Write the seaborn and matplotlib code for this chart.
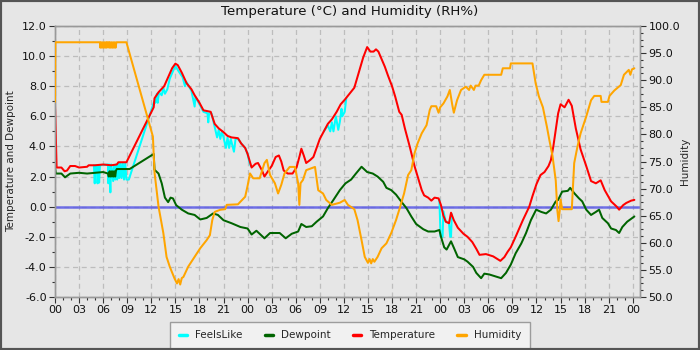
import matplotlib
matplotlib.use("Agg")
import matplotlib.pyplot as plt
import pandas as pd
import seaborn as sns
from matplotlib.lines import Line2D
from matplotlib.patches import Rectangle
from matplotlib.ticker import MultipleLocator, FormatStrFormatter, FuncFormatter

# ---- readings (hours since midnight of day 1) ----
temp_hours = [0.0, 0.1, 0.2, 0.8, 1.2, 1.5, 1.9, 2.5, 3.0, 4.0, 4.2, 5.0, 6.0, 7.0, 7.7, 7.9, 8.9,
              12.3, 12.4, 12.9, 13.6, 14.1, 14.6, 15.0, 15.3, 15.8, 16.4, 17.0, 17.4, 18.0, 18.5,
              19.4, 19.9, 20.4, 21.0, 21.5, 22.0, 22.8, 23.2, 23.7, 24.0, 24.5, 25.0, 25.3, 25.8,
              26.1, 26.6, 27.0, 27.5, 27.9, 28.2, 28.5, 29.0, 29.6, 30.1, 30.5, 30.7, 31.0, 31.3,
              31.8, 32.2, 32.6, 33.0, 33.5, 34.0, 34.5, 35.1, 35.6, 36.1, 36.7, 37.3, 37.9, 38.4,
              38.9, 39.3, 39.7, 40.0, 40.3, 40.7, 41.1, 41.5, 42.0, 42.4, 42.9, 43.2, 43.6, 44.2,
              44.8, 45.2, 45.7, 46.0, 46.5, 46.9, 47.3, 47.8, 48.1, 48.4, 48.7, 49.1, 49.35, 49.7,
              50.2, 50.9, 51.4, 52.0, 52.5, 52.9, 53.7, 54.6, 55.2, 55.5, 56.0, 56.4, 56.8, 57.4,
              58.3, 59.1, 59.5, 60.0, 60.5, 61.0, 61.5, 61.8, 62.1, 62.4, 62.7, 63.0, 63.5, 64.0,
              64.4, 64.9, 65.5, 66.2, 66.8, 67.4, 68.0, 68.5, 69.3, 70.0, 70.3, 70.8, 71.2, 71.8,
              72.2]
temperature = [6.8, 4.8, 2.6, 2.6, 2.35, 2.4, 2.7, 2.7, 2.6, 2.65, 2.75, 2.75, 2.8, 2.75, 2.8, 2.95, 2.95,
               6.6, 7.2, 7.6, 8.0, 8.6, 9.2, 9.5, 9.4, 8.9, 8.2, 7.8, 7.4, 6.9, 6.4,
               6.3, 5.5, 5.2, 4.95, 4.7, 4.6, 4.55, 4.2, 3.9, 3.5, 2.6, 2.85, 2.9, 2.4,
               2.0, 2.4, 2.7, 3.3, 3.4, 3.0, 2.4, 2.2, 2.2, 2.6, 3.4, 3.85, 3.4, 2.9,
               3.1, 3.3, 3.9, 4.5, 5.0, 5.5, 5.8, 6.3, 6.8, 7.1, 7.5, 7.9, 9.0, 9.9,
               10.6, 10.3, 10.3, 10.45, 10.3, 9.8, 9.3, 8.7, 8.0, 7.3, 6.3, 6.1, 5.2, 4.0,
               2.7, 2.0, 1.1, 0.75, 0.6, 0.4, 0.6, 0.55, 0.1, -0.6, -1.0, -1.1, -0.4, -0.9,
               -1.4, -1.8, -2.0, -2.35, -2.8, -3.2, -3.15, -3.3, -3.5, -3.6, -3.35, -3.0, -2.7, -2.0,
               -0.9, 0.0, 0.7, 1.5, 2.1, 2.3, 2.7, 3.1, 4.0, 5.1, 6.2, 6.8, 6.6, 7.1,
               6.7, 5.2, 3.8, 2.7, 1.7, 1.55, 1.75, 1.1, 0.35, 0.0, -0.2, 0.1, 0.25, 0.4,
               0.45]

dew_hours = [0.0, 0.1, 0.8, 1.25, 1.9, 3.0, 4.0, 5.0, 6.0, 6.6, 6.7, 6.8, 6.9, 7.0, 7.1, 7.2, 7.3,
             7.4, 7.5, 7.6, 7.7, 9.3, 12.3, 12.4, 12.9, 13.3, 13.7, 14.1, 14.4, 14.7, 15.1, 15.8,
             16.6, 17.4, 18.1, 18.9, 19.7, 20.3, 21.0, 22.0, 23.1, 24.0, 24.5, 25.1, 26.1, 26.8,
             28.0, 28.75, 29.5, 30.3, 30.7, 31.3, 32.0, 32.6, 33.4, 34.0, 34.7, 35.5, 36.2, 36.9,
             37.5, 38.2, 38.9, 39.6, 40.2, 40.9, 41.3, 41.9, 42.5, 43.2, 43.8, 44.4, 45.0, 45.9,
             46.5, 47.3, 47.9, 48.1, 48.5, 48.8, 49.35, 49.8, 50.2, 51.0, 51.4, 52.1, 52.5, 53.1,
             53.5, 54.1, 55.0, 55.6, 56.2, 56.8, 57.4, 58.1, 58.7, 59.3, 59.96, 60.6, 61.2, 61.8,
             62.4, 62.7, 63.2, 63.9, 64.2, 64.7, 65.3, 65.7, 66.2, 66.8, 67.4, 67.8, 68.2, 68.9,
             69.3, 69.9, 70.3, 70.7, 71.3, 72.2]
dewpoint = [2.6, 2.2, 2.2, 1.95, 2.2, 2.25, 2.2, 2.25, 2.3, 2.2, 2.0, 2.35, 2.0, 2.35, 2.0, 2.35, 2.0,
            2.35, 2.0, 2.4, 2.5, 2.5, 3.5, 2.45, 2.2, 1.55, 0.6, 0.3, 0.6, 0.55, 0.1, -0.2,
            -0.45, -0.55, -0.85, -0.75, -0.45, -0.55, -0.9, -1.1, -1.35, -1.45, -1.85, -1.6, -2.1, -1.75,
            -1.75, -2.1, -1.8, -1.65, -1.15, -1.35, -1.3, -1.0, -0.65, -0.1, 0.45, 1.1, 1.55, 1.8,
            2.2, 2.65, 2.3, 2.2, 2.0, 1.65, 1.25, 1.1, 0.8, 0.3, -0.1, -0.65, -1.15, -1.5,
            -1.65, -1.65, -1.55, -2.0, -2.7, -2.85, -2.3, -2.85, -3.35, -3.5, -3.65, -4.0, -4.4, -4.75,
            -4.45, -4.5, -4.65, -4.75, -4.4, -3.85, -3.1, -2.45, -1.75, -0.9, -0.2, -0.35, -0.45, -0.2,
            0.35, 0.45, 1.0, 1.05, 1.25, 0.9, 0.55, 0.35, -0.2, -0.55, -0.35, -0.2, -0.75, -1.1,
            -1.45, -1.55, -1.75, -1.35, -1.0, -0.65]

# wind-chill stretches where the apparent temperature drops below the air temperature
feels_segment = [0] * 71 + [1] * 12 + [2] * 9
feels_hours = [4.85, 4.95, 5.05, 5.25, 5.3, 5.4, 5.5, 5.6, 6.6, 6.65, 6.75, 6.9, 7.0, 7.25, 7.35, 7.5,
               7.6, 7.75, 7.9, 8.0, 8.15, 8.3, 8.45, 8.6, 8.75, 8.9, 9.2, 12.3, 12.4, 12.5, 12.7,
               12.8, 12.95, 13.3, 13.5, 13.7, 14.0, 14.3, 14.7, 15.0, 15.4, 15.9, 16.2, 16.35, 17.0,
               17.4, 17.5, 18.0, 18.5, 19.0, 19.1, 19.2, 19.5, 19.9, 20.2, 20.4, 20.6, 20.8, 21.0,
               21.3, 21.5, 21.7, 21.9, 22.3, 22.5, 22.8, 23.2, 23.7, 24.0, 24.2, 24.4,
               33.5, 34.0, 34.3, 34.5, 34.7, 35.0, 35.3, 35.5, 35.7, 35.8, 36.1, 36.3,
               47.9, 48.05, 48.3, 48.4, 48.7, 49.1, 49.25, 49.35, 49.45]
feels_like = [2.75, 1.55, 2.75, 2.75, 1.55, 2.75, 1.6, 2.75, 2.8, 1.55, 2.8, 0.95, 2.8, 1.7, 2.75, 1.8,
              2.8, 1.8, 2.9, 1.9, 2.9, 1.9, 2.9, 1.8, 2.9, 1.8, 1.8, 6.9, 7.0, 6.9, 7.5,
              6.9, 7.6, 7.4, 7.9, 7.5, 7.8, 8.5, 9.0, 9.35, 9.0, 8.6, 8.0, 8.3, 7.7,
              6.65, 7.3, 6.8, 6.3, 6.2, 5.6, 6.2, 6.2, 5.3, 4.6, 5.1, 4.5, 5.0, 4.6,
              3.9, 4.6, 3.9, 4.5, 3.65, 4.5, 4.5, 4.2, 3.9, 3.5, 3.0, 2.7,
              5.0, 5.4, 5.0, 5.6, 5.0, 6.0, 5.1, 5.65, 6.5, 6.0, 6.3, 7.2,
              0.45, -2.0, -2.0, -0.3, -1.0, -1.1, -2.0, -2.0, -0.5]

hum_hours = [0.0, 0.05, 5.6, 5.65, 5.75, 5.85, 5.95, 6.05, 6.15, 6.25, 6.35, 6.45, 6.5, 6.7, 6.75,
             6.85, 6.95, 7.05, 7.15, 7.25, 7.35, 7.45, 7.55, 7.65, 8.9, 12.2, 12.4, 12.9, 13.5,
             13.9, 14.3, 14.9, 15.2, 15.4, 15.6, 15.8, 16.0, 16.6, 17.4, 18.1, 18.9, 19.3, 19.6,
             19.9, 20.6, 21.2, 21.4, 22.8, 23.7, 24.0, 24.3, 24.7, 25.5, 26.1, 26.4, 26.8, 27.4,
             27.8, 28.2, 28.6, 29.25, 29.9, 30.3, 30.45, 30.6, 30.9, 31.3, 32.4, 32.8, 33.4, 33.8,
             34.5, 35.5, 36.1, 36.5, 37.3, 37.7, 38.2, 38.6, 39.0, 39.2, 39.4, 39.6, 39.8, 40.2,
             40.7, 41.3, 41.9, 42.5, 42.9, 43.5, 44.0, 44.4, 44.8, 45.2, 45.7, 46.3, 46.7, 46.9,
             47.5, 47.8, 48.0, 48.4, 48.9, 49.2, 49.5, 49.7, 50.1, 50.6, 51.2, 51.6, 51.8, 52.2,
             52.4, 52.8, 53.1, 53.5, 55.6, 55.8, 56.7, 56.8, 59.5, 59.9, 60.3, 60.8, 61.3, 61.6,
             62.0, 62.4, 62.6, 62.75, 62.9, 63.0, 63.2, 64.4, 64.7, 65.1, 65.5, 66.2, 66.8, 67.2,
             68.0, 68.1, 68.9, 69.1, 69.7, 70.5, 70.9, 71.5, 71.7, 71.9, 72.2]
humidity = [86, 97, 97, 96, 97, 96, 97, 96, 97, 96, 97, 96, 97, 97, 96,
            97, 96, 97, 96, 97, 96, 97, 96, 97, 97, 79.6, 73, 66.7, 61.8,
            57.4, 55.6, 53.4, 52.5, 53.3, 52.3, 53.5, 53.7, 55.6, 57.4, 59.0, 60.5, 61.4, 64.2,
            65.7, 66.1, 66.2, 67.0, 67.1, 68.5, 70.5, 72.8, 71.9, 71.9, 74.7, 75.3, 72.5, 71.0,
            69.1, 70.7, 72.8, 74.0, 74.0, 71.0, 67.0, 71.0, 71.6, 73.4, 74.0, 69.7, 69.1, 67.9,
            67.0, 67.4, 67.9, 67.0, 66.2, 64.2, 60.5, 57.4, 56.3, 57.0, 56.2, 57.0, 56.5, 57.4,
            59.0, 59.9, 61.8, 64.2, 66.1, 69.1, 72.5, 73.4, 76.5, 78.4, 80.2, 81.7, 84.5, 85.2,
            85.2, 84.0, 85.0, 85.7, 87.0, 88.2, 85.5, 84.0, 86.3, 88.2, 88.8, 88.2, 89.0, 88.2,
            89.0, 89.0, 90.0, 91.0, 91.0, 92.2, 92.2, 93.1, 93.1, 89.4, 87.0, 85.0, 81.4, 79.0,
            76.0, 71.5, 66.0, 64.0, 66.0, 68.0, 66.2, 66.2, 74.7, 77.7, 80.2, 83.3, 86.3, 87.1,
            87.1, 86.0, 86.0, 87.1, 88.1, 89.1, 91.0, 91.9, 91.0, 92.0, 92.2]

series_names = ["FeelsLike", "Dewpoint", "Temperature", "Humidity"]
series_colors = ["#00ffff", "#006400", "#ff0000", "#ffa500"]

# ---- frames ----
temp_df = pd.DataFrame({"hour": temp_hours, "value": temperature})
dew_df = pd.DataFrame({"hour": dew_hours, "value": dewpoint})
feels_df = pd.DataFrame({"hour": feels_hours, "value": feels_like, "segment": feels_segment})
hum_df = pd.DataFrame({"hour": hum_hours, "value": humidity})

sns.set_theme(style="ticks")
plt.rcParams["font.family"] = ["DejaVu Sans"]
plt.rcParams["axes.unicode_minus"] = False

bg = "#e6e6e6"
fig = plt.figure(figsize=(7, 3.5), dpi=100, facecolor=bg)
ax = fig.add_axes([55 / 700, 53 / 350, 585 / 700, 271 / 350])
ax.set_facecolor(bg)
ax2 = ax.twinx()

lw = 1.45
ax.axhline(0, color="#5a5ae6", lw=1.8, alpha=0.85, zorder=1)
sns.lineplot(data=feels_df, x="hour", y="value", units="segment", estimator=None, sort=False,
             ax=ax, color=series_colors[0], lw=lw, zorder=2)
sns.lineplot(data=dew_df, x="hour", y="value", estimator=None, sort=False,
             ax=ax, color=series_colors[1], lw=lw, zorder=3)
sns.lineplot(data=temp_df, x="hour", y="value", estimator=None, sort=False,
             ax=ax, color=series_colors[2], lw=lw, zorder=4)
sns.lineplot(data=hum_df, x="hour", y="value", estimator=None, sort=False,
             ax=ax2, color=series_colors[3], lw=lw, zorder=5)

# ---- axes ----
ax.set_xlim(0, 72.9)
ax.set_ylim(-6, 12)
ax2.set_ylim(50, 100)

ax.xaxis.set_major_locator(MultipleLocator(3))
ax.xaxis.set_minor_locator(MultipleLocator(1))
ax.xaxis.set_major_formatter(FuncFormatter(lambda v, p: f"{int(round(v)) % 24:02d}"))
ax.yaxis.set_major_locator(MultipleLocator(2))
ax.yaxis.set_minor_locator(MultipleLocator(1))
ax.yaxis.set_major_formatter(FormatStrFormatter("%.1f"))
ax2.yaxis.set_major_locator(MultipleLocator(5))
ax2.yaxis.set_minor_locator(MultipleLocator(1.25))
ax2.yaxis.set_major_formatter(FormatStrFormatter("%.1f"))

for a in (ax, ax2):
    a.tick_params(which="major", length=4, width=0.8, color="#333333", labelsize=8, pad=2,
                  labelcolor="#111111")
    a.tick_params(which="minor", length=2.5, width=0.8, color="#333333")
    for s in a.spines.values():
        s.set_color("#999999")
        s.set_linewidth(1.0)
    a.set_xlabel("")

ax.grid(True, which="major", color="#bdbdbd", linestyle=(0, (4, 3)), linewidth=0.9)
ax.set_axisbelow(True)
ax.set_ylabel("Temperature and Dewpoint", fontsize=7.5, labelpad=4)
ax2.set_ylabel("Humidity", fontsize=7.5, labelpad=0)

fig.text(0.5, 1 - 12 / 350, "Temperature (°C) and Humidity (RH%)", ha="center", va="center",
         fontsize=9.6, color="#111111")

handles = [Line2D([], [], color=c, lw=2.5) for c in series_colors]
leg = fig.legend(handles, series_names, loc="center", bbox_to_anchor=(0.5, 1 - 335.5 / 350),
                 ncol=4, fontsize=7.5, frameon=True, fancybox=False, handlelength=0.8,
                 handletextpad=0.8, columnspacing=2.1, borderpad=0.8, borderaxespad=0)
leg.get_frame().set_facecolor("#f5f5f5")
leg.get_frame().set_edgecolor("#888888")
leg.get_frame().set_linewidth(1.0)

fig.patches.append(Rectangle((0, 0), 1, 1, transform=fig.transFigure, fill=False,
                             edgecolor="#555555", linewidth=3, zorder=10))

fig.savefig("out.png", dpi=100, facecolor=bg)
